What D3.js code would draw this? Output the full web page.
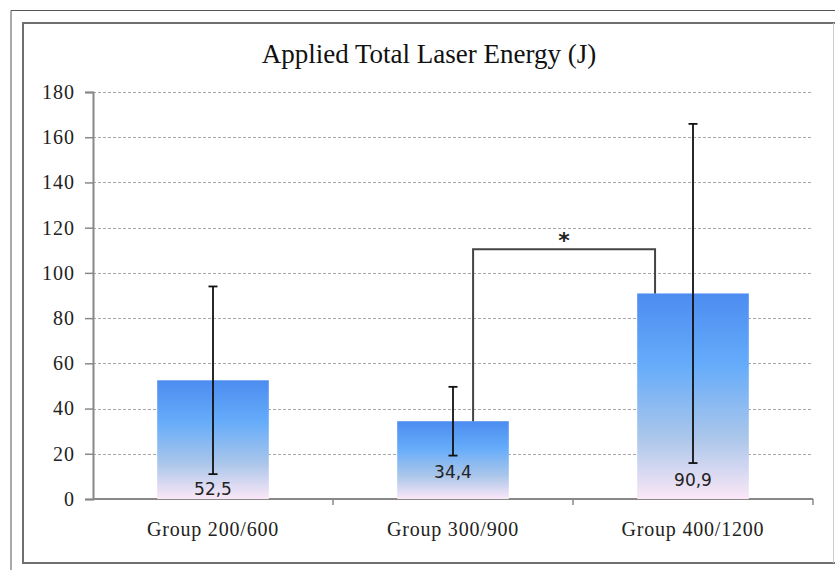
<!DOCTYPE html>
<html>
<head>
<meta charset="utf-8">
<script src="https://cdn.jsdelivr.net/npm/d3@7"></script>
<style>
  html, body { margin: 0; padding: 0; background: #fff; }
  svg { display: block; }
</style>
</head>
<body>
<svg id="chart" width="835" height="570"></svg>
<script>
// ---- data ----
const categories = ["Group 200/600", "Group 300/900", "Group 400/1200"];
const means = [52.5, 34.4, 90.9];
const sds = [41.5, 15.2, 75.0];
const valueLabels = ["52,5", "34,4", "90,9"];
const yTicks = [0, 20, 40, 60, 80, 100, 120, 140, 160, 180];
const title = "Applied Total Laser Energy (J)";
const sigFrom = 1, sigTo = 2, sigLevel = 110.5, sigMark = "*";

// ---- layout / style ----
const W = 835, H = 570;
const plot = { left: 93, right: 813, top: 92, bottom: 499 };
const labelDy = [-4, -21, -13];

const svg = d3.select("#chart");

// frames
svg.append("path")
  .attr("d", `M11,${H} L11,10.5 L${W},10.5`)
  .attr("fill", "none").attr("stroke", "#555").attr("stroke-width", 1);
svg.append("path")
  .attr("d", `M${W},23 L23,23 L23,563 L${W},563`)
  .attr("fill", "none").attr("stroke", "#6f6f6f").attr("stroke-width", 2);
svg.append("line")
  .attr("x1", 833.5).attr("x2", 833.5).attr("y1", 23).attr("y2", 563)
  .attr("stroke", "#ccc").attr("stroke-width", 1);

// gradient
const defs = svg.append("defs");
const grad = defs.append("linearGradient").attr("id", "barGrad")
  .attr("x1", 0).attr("y1", 0).attr("x2", 0).attr("y2", 1);
[[0, "#4c8cf0"], [0.35, "#66acfa"], [0.7, "#aac6ea"], [1, "#fbe7f7"]]
  .forEach(([o, c]) => grad.append("stop").attr("offset", o).attr("stop-color", c));

// scales
const x = d3.scaleBand().domain(categories).range([plot.left, plot.right])
  .paddingInner(0.535).paddingOuter(0.2675);
const y = d3.scaleLinear().domain([0, 180]).range([plot.bottom, plot.top]);

// title
svg.append("text")
  .attr("x", 429).attr("y", 63)
  .attr("text-anchor", "middle")
  .attr("font-family", "'Liberation Serif', 'Times New Roman', serif")
  .attr("font-size", 27)
  .attr("fill", "#111")
  .text(title);

// gridlines
svg.append("g").selectAll("line").data(yTicks.filter(d => d > 0)).join("line")
  .attr("x1", plot.left).attr("x2", plot.right)
  .attr("y1", d => Math.round(y(d)) + 0.5).attr("y2", d => Math.round(y(d)) + 0.5)
  .attr("stroke", "#a8a8a8").attr("stroke-width", 1)
  .attr("stroke-dasharray", "3,2");

// y axis
const yAxis = svg.append("g")
  .attr("transform", `translate(${plot.left},0)`)
  .call(d3.axisLeft(y).tickValues(yTicks).tickSize(8).tickPadding(10).tickFormat(d3.format("d")));
yAxis.select(".domain").attr("stroke", "#888").attr("stroke-width", 2);
yAxis.selectAll(".tick line").attr("stroke", "#888").attr("stroke-width", 1.5);
yAxis.selectAll(".tick text")
  .attr("font-family", "'Liberation Serif', 'Times New Roman', serif")
  .attr("font-size", 20).attr("letter-spacing", 1).attr("fill", "#222");

// x axis
const xAxisG = svg.append("g").attr("transform", `translate(0,${plot.bottom})`);
xAxisG.append("line")
  .attr("x1", plot.left).attr("x2", plot.right).attr("y1", 0).attr("y2", 0)
  .attr("stroke", "#888").attr("stroke-width", 2);
const step = x.step();
const boundaries = categories.map((c, i) => plot.left + step * (i + 1));
xAxisG.selectAll("line.tk").data(boundaries).join("line").attr("class", "tk")
  .attr("x1", d => d).attr("x2", d => d).attr("y1", 0).attr("y2", 6)
  .attr("stroke", "#888").attr("stroke-width", 1.5);
xAxisG.selectAll("text.cat").data(categories).join("text").attr("class", "cat")
  .attr("x", d => x(d) + x.bandwidth() / 2)
  .attr("y", 37)
  .attr("text-anchor", "middle")
  .attr("font-family", "'Liberation Serif', 'Times New Roman', serif")
  .attr("font-size", 20).attr("letter-spacing", 0.8).attr("fill", "#222")
  .text(d => d);

// bars
svg.append("g").selectAll("rect").data(means).join("rect")
  .attr("x", (d, i) => x(categories[i]))
  .attr("width", x.bandwidth())
  .attr("y", d => y(d))
  .attr("height", d => y(0) - y(d))
  .attr("fill", "url(#barGrad)");

// value labels
svg.append("g").selectAll("text").data(valueLabels).join("text")
  .attr("x", (d, i) => x(categories[i]) + x.bandwidth() / 2)
  .attr("y", (d, i) => y(0) + labelDy[i])
  .attr("text-anchor", "middle")
  .attr("font-family", "'DejaVu Sans', Verdana, sans-serif")
  .attr("font-size", 17).attr("fill", "#222")
  .text(d => d);

// error bars
const eb = svg.append("g").attr("stroke", "#111").attr("stroke-width", 1.8);
means.forEach((m, i) => {
  const cx = x(categories[i]) + x.bandwidth() / 2;
  const y1 = y(m + sds[i]), y2 = y(Math.max(0, m - sds[i]));
  eb.append("line").attr("x1", cx).attr("x2", cx).attr("y1", y1).attr("y2", y2);
  eb.append("line").attr("x1", cx - 4.5).attr("x2", cx + 4.5).attr("y1", y1).attr("y2", y1);
  eb.append("line").attr("x1", cx - 4.5).attr("x2", cx + 4.5).attr("y1", y2).attr("y2", y2);
});

// significance bracket
const bx1 = x(categories[sigFrom]) + x.bandwidth() * 0.68;
const bx2 = x(categories[sigTo]) + x.bandwidth() * 0.16;
svg.append("path")
  .attr("d", `M${bx1},${y(means[sigFrom])} L${bx1},${y(sigLevel)} L${bx2},${y(sigLevel)} L${bx2},${y(means[sigTo])}`)
  .attr("fill", "none").attr("stroke", "#444").attr("stroke-width", 2);
svg.append("text")
  .attr("x", (bx1 + bx2) / 2).attr("y", y(sigLevel) - 1)
  .attr("text-anchor", "middle")
  .attr("font-family", "'DejaVu Sans', sans-serif")
  .attr("font-size", 22).attr("font-weight", "bold").attr("fill", "#222")
  .text(sigMark);
</script>
</body>
</html>
